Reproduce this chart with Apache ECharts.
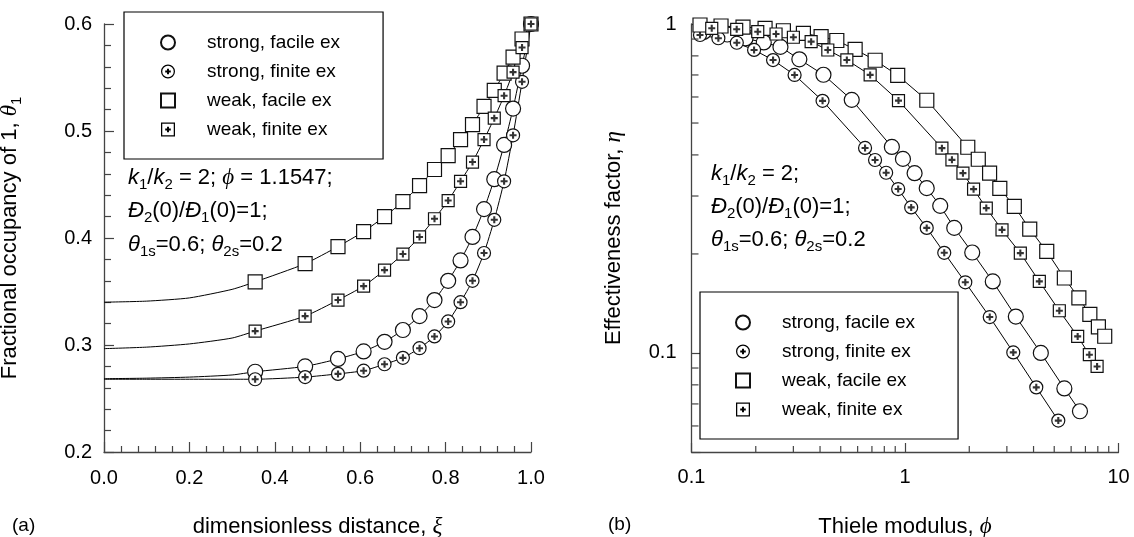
<!DOCTYPE html>
<html><head><meta charset="utf-8">
<script src="https://cdn.jsdelivr.net/npm/echarts@6/dist/echarts.min.js"></script>
<style>html,body{margin:0;padding:0;background:#fff}#c{width:1134px;height:537px}</style>
</head><body><div id="c"></div>
<script>
// ---------- Panel (a): fractional occupancy vs dimensionless distance ----------
const aXi = [0.354, 0.471, 0.548, 0.608, 0.657, 0.700, 0.739, 0.774, 0.806, 0.835, 0.863, 0.890, 0.914, 0.937, 0.958, 0.979, 1.000];
const aStrongFacile = [0.275, 0.280, 0.287, 0.294, 0.303, 0.314, 0.327, 0.342, 0.360, 0.379, 0.401, 0.427, 0.455, 0.487, 0.521, 0.561, 0.600];
const aStrongFinite = [0.268, 0.270, 0.273, 0.276, 0.282, 0.288, 0.297, 0.308, 0.322, 0.340, 0.360, 0.386, 0.417, 0.453, 0.496, 0.546, 0.600];
const aWeakFacile = [0.359, 0.376, 0.392, 0.406, 0.420, 0.434, 0.449, 0.464, 0.477, 0.492, 0.506, 0.523, 0.538, 0.554, 0.569, 0.586, 0.600];
const aWeakFinite = [0.313, 0.327, 0.342, 0.355, 0.370, 0.385, 0.401, 0.418, 0.435, 0.453, 0.471, 0.492, 0.512, 0.533, 0.555, 0.578, 0.600];
// curve near the centre (line only, no markers)
const aXiCentre = [0, 0.1, 0.2, 0.3];
const aStrongFacileCentre = [0.2685, 0.269, 0.270, 0.272];
const aStrongFiniteCentre = [0.268, 0.268, 0.268, 0.268];
const aWeakFacileCentre = [0.340, 0.341, 0.344, 0.352];
const aWeakFiniteCentre = [0.2966, 0.298, 0.301, 0.3065];

// ---------- Panel (b): effectiveness factor vs Thiele modulus ----------
const bStrongFacilePhi = [0.114, 0.147, 0.179, 0.218, 0.261, 0.320, 0.415, 0.563, 0.868, 0.978, 1.109, 1.264, 1.462, 1.701, 2.065, 2.577, 3.304, 4.327, 5.577, 6.599];
const bStrongFacileEta = [0.946, 0.929, 0.904, 0.879, 0.852, 0.781, 0.701, 0.588, 0.423, 0.389, 0.352, 0.317, 0.280, 0.240, 0.202, 0.165, 0.129, 0.100, 0.078, 0.0665];
const bStrongFinitePhi = [0.1096, 0.1336, 0.163, 0.1964, 0.241, 0.304, 0.411, 0.650, 0.724, 0.816, 0.929, 1.069, 1.264, 1.527, 1.916, 2.494, 3.215, 4.120, 5.224];
const bStrongFiniteEta = [0.926, 0.905, 0.877, 0.834, 0.777, 0.700, 0.584, 0.420, 0.386, 0.353, 0.315, 0.277, 0.240, 0.2016, 0.164, 0.1286, 0.1004, 0.0786, 0.0623];
const bWeakFacilePhi = [0.1096, 0.1375, 0.1743, 0.2211, 0.2694, 0.3343, 0.4046, 0.4793, 0.5841, 0.7248, 0.9243, 1.265, 1.968, 2.204, 2.490, 2.780, 3.251, 3.839, 4.612, 5.577, 6.522, 7.342, 8.050, 8.618];
const bWeakFacileEta = [0.993, 0.986, 0.979, 0.9705, 0.954, 0.937, 0.915, 0.891, 0.837, 0.776, 0.698, 0.5865, 0.422, 0.388, 0.352, 0.3165, 0.279, 0.238, 0.2035, 0.169, 0.147, 0.131, 0.120, 0.1124];
const bWeakFinitePhi = [0.1244, 0.1628, 0.2043, 0.2489, 0.3001, 0.3634, 0.4350, 0.5341, 0.6867, 0.9322, 1.489, 1.659, 1.868, 2.095, 2.403, 2.847, 3.469, 4.258, 5.283, 6.438, 7.303, 7.938];
const bWeakFiniteEta = [0.9705, 0.9636, 0.9476, 0.9325, 0.9113, 0.8837, 0.8337, 0.7774, 0.7002, 0.5849, 0.4194, 0.3864, 0.3521, 0.3148, 0.2757, 0.2367, 0.2012, 0.165, 0.1344, 0.1123, 0.0988, 0.0910];

// tick values / labels
const bXLabels = [0.1, 1, 10];
const bYLabels = [0.1, 1];
const bXMinor = [0.2, 0.3, 0.4, 0.5, 0.6, 0.7, 0.8, 0.9, 2, 3, 4, 5, 6, 7, 8, 9];
const bYMinor = [0.06, 0.07, 0.08, 0.09, 0.2, 0.3, 0.4, 0.5, 0.6, 0.7, 0.8, 0.9];
const legendNames = ['strong, facile ex', 'strong, finite ex', 'weak, facile ex', 'weak, finite ex'];

const FONT = 'Liberation Sans';
const AX = '#444';
const PLUS = 'path://M3.5,0L6.5,0L6.5,3.5L10,3.5L10,6.5L6.5,6.5L6.5,10L3.5,10L3.5,6.5L0,6.5L0,3.5L3.5,3.5Z';
const ICON_CIRCLE = 'path://M0,50A50,50 0 1,1 100,50A50,50 0 1,1 0,50Z';
const ICON_CIRCLE_PLUS = 'path://M0,50A50,50 0 1,1 100,50A50,50 0 1,1 0,50Z M9,50A41,41 0 1,0 91,50A41,41 0 1,0 9,50Z M43,30L57,30L57,43L70,43L70,57L57,57L57,70L43,70L43,57L30,57L30,43L43,43Z';
const ICON_SQUARE = 'path://M0,0L100,0L100,100L0,100Z';
const ICON_SQUARE_PLUS = 'path://M0,0L100,0L100,100L0,100Z M9,9L9,91L91,91L91,9Z M43,30L57,30L57,43L70,43L70,57L57,57L57,70L43,70L43,57L30,57L30,43L43,43Z';

const zip = (xs, ys) => xs.map((x, i) => [x, ys[i]]);

const RICH = {
  n: {fontSize: 22, fontFamily: FONT, color: '#000', lineHeight: 28},
  i: {fontSize: 22, fontFamily: FONT, fontStyle: 'italic', color: '#000', lineHeight: 28},
  gi: {fontSize: 23, fontFamily: 'Liberation Serif', fontStyle: 'italic', color: '#000', lineHeight: 28},
  sub: {fontSize: 15, fontFamily: FONT, color: '#000', lineHeight: 17, verticalAlign: 'bottom'}
};
const NAME_RICH = {
  n: {fontSize: 22, fontFamily: FONT, color: '#000', lineHeight: 28},
  gi: {fontSize: 23, fontFamily: 'Liberation Serif', fontStyle: 'italic', color: '#000', lineHeight: 28},
  sub: {fontSize: 15, fontFamily: FONT, color: '#000', lineHeight: 16, verticalAlign: 'bottom'}
};

function lineS(data, xi, yi, smooth) {
  return {type: 'line', xAxisIndex: xi, yAxisIndex: yi, data: data, symbol: 'none',
    smooth: smooth,
    lineStyle: {color: '#000', width: 1}, silent: true, z: 2, clip: true};
}
function markS(name, data, symbol, size, xi, yi) {
  return {type: 'scatter', name: name, xAxisIndex: xi, yAxisIndex: yi, data: data, symbol: symbol,
    symbolSize: size, itemStyle: {color: '#fff', borderColor: '#111', borderWidth: 1.2, opacity: 1}, z: 3, silent: true};
}
function plusS(data, xi, yi) {
  return {type: 'scatter', xAxisIndex: xi, yAxisIndex: yi, data: data, symbol: PLUS, symbolSize: 7,
    itemStyle: {color: '#000'}, z: 3, silent: true};
}

function panelSeries(sf, sfi, wf, wfi, sfLine, sfiLine, wfLine, wfiLine, xi, yi, sizes, smooth) {
  return [
    lineS(sfLine, xi, yi, smooth), lineS(sfiLine, xi, yi, smooth), lineS(wfLine, xi, yi, smooth), lineS(wfiLine, xi, yi, smooth),
    markS(legendNames[0], sf, 'circle', sizes[0], xi, yi),
    markS(legendNames[1], sfi, 'circle', sizes[1], xi, yi),
    plusS(sfi, xi, yi),
    markS(legendNames[2], wf, 'rect', sizes[2], xi, yi),
    markS(legendNames[3], wfi, 'rect', sizes[3], xi, yi),
    plusS(wfi, xi, yi)
  ];
}

const aSF = zip(aXi, aStrongFacile), aSFi = zip(aXi, aStrongFinite);
const aWF = zip(aXi, aWeakFacile), aWFi = zip(aXi, aWeakFinite);
const bSF = zip(bStrongFacilePhi, bStrongFacileEta), bSFi = zip(bStrongFinitePhi, bStrongFiniteEta);
const bWF = zip(bWeakFacilePhi, bWeakFacileEta), bWFi = zip(bWeakFinitePhi, bWeakFiniteEta);

const series = [].concat(
  panelSeries(aSF, aSFi, aWF, aWFi,
    zip(aXiCentre, aStrongFacileCentre).concat(aSF),
    zip(aXiCentre, aStrongFiniteCentre).concat(aSFi),
    zip(aXiCentre, aWeakFacileCentre).concat(aWF),
    zip(aXiCentre, aWeakFiniteCentre).concat(aWFi), 0, 0, [15, 13, 14, 12], 0.2),
  panelSeries(bSF, bSFi, bWF, bWFi, bSF, bSFi, bWF, bWFi, 1, 1, [15, 13, 14, 12], false),
  [
    {type: 'custom', xAxisIndex: 1, yAxisIndex: 1, silent: true, clip: false, z: 5,
      data: bXMinor.map(v => [v, 0.05]),
      renderItem: (p, api) => {
        const c = api.coord([api.value(0), api.value(1)]);
        return {type: 'line', shape: {x1: c[0], y1: c[1], x2: c[0], y2: c[1] - 6}, style: {stroke: AX, lineWidth: 1.2}};
      }},
    {type: 'custom', xAxisIndex: 1, yAxisIndex: 1, silent: true, clip: false, z: 5,
      data: bYMinor.map(v => [0.1, v]),
      renderItem: (p, api) => {
        const c = api.coord([api.value(0), api.value(1)]);
        return {type: 'line', shape: {x1: c[0], y1: c[1], x2: c[0] + 7, y2: c[1]}, style: {stroke: AX, lineWidth: 1.2}};
      }}
  ]
);

function legendData() {
  return [
    {name: legendNames[0], icon: ICON_CIRCLE},
    {name: legendNames[1], icon: ICON_CIRCLE_PLUS, itemStyle: {color: '#000', borderWidth: 0}},
    {name: legendNames[2], icon: ICON_SQUARE},
    {name: legendNames[3], icon: ICON_SQUARE_PLUS, itemStyle: {color: '#000', borderWidth: 0}}
  ];
}
function legend(left, top, padLeft) {
  return {left: left, top: top, orient: 'vertical', selectedMode: false, data: legendData(),
    itemWidth: 68, itemHeight: 14, itemGap: 10, padding: [21, 43, 20, padLeft],
    borderColor: '#000', borderWidth: 1.2, backgroundColor: '#fff', symbolKeepAspect: true,
    textStyle: {fontSize: 19, fontFamily: FONT, color: '#000'}};
}

const axLine = {onZero: false, lineStyle: {color: AX, width: 1.3}};
const tickLbl = {fontSize: 20, fontFamily: FONT, color: '#000'};

const option = {
  animation: false,
  backgroundColor: '#fff',
  textStyle: {fontFamily: FONT},
  grid: [
    {left: 104, top: 24, width: 427, height: 428, outerBoundsMode: 'none', containLabel: false},
    {left: 691.5, top: 24, width: 427, height: 428, outerBoundsMode: 'none', containLabel: false}
  ],
  xAxis: [
    {type: 'value', gridIndex: 0, min: 0, max: 1, interval: 0.2,
      axisLine: axLine, axisTick: {inside: true, length: 10, lineStyle: {color: AX, width: 1.2}},
      minorTick: {show: true, splitNumber: 5, length: 6, lineStyle: {color: AX, width: 1.2}},
      splitLine: {show: false}, minorSplitLine: {show: false},
      axisLabel: Object.assign({margin: 16, formatter: v => v.toFixed(1)}, tickLbl),
      name: '{n|dimensionless distance, }{gi|ξ}', nameLocation: 'middle', nameGap: 61,
      nameTextStyle: {rich: NAME_RICH}},
    {type: 'log', logBase: 10, gridIndex: 1, min: 0.1, max: 10,
      axisLine: axLine, axisTick: {inside: true, length: 9, lineStyle: {color: AX, width: 1.2}},
      minorTick: {show: false}, splitLine: {show: false},
      axisLabel: Object.assign({margin: 15, formatter: v => {
        const r = +Number(v).toPrecision(3); return bXLabels.indexOf(r) >= 0 ? String(r) : '';
      }}, tickLbl),
      name: '{n|Thiele modulus, }{gi|ϕ}', nameLocation: 'middle', nameGap: 61,
      nameTextStyle: {rich: NAME_RICH}}
  ],
  yAxis: [
    {type: 'value', gridIndex: 0, min: 0.2, max: 0.6, interval: 0.1,
      axisLine: axLine, axisTick: {inside: true, length: 10, lineStyle: {color: AX, width: 1.2}},
      minorTick: {show: true, splitNumber: 5, length: 7, lineStyle: {color: AX, width: 1.2}},
      splitLine: {show: false}, minorSplitLine: {show: false},
      axisLabel: Object.assign({margin: 12, formatter: v => v.toFixed(1)}, tickLbl),
      name: '{n|Fractional occupancy of 1, }{gi|θ}{sub|1}', nameLocation: 'middle', nameGap: 80,
      nameTextStyle: {rich: NAME_RICH}},
    {type: 'log', logBase: 10, gridIndex: 1, min: 0.05, max: 1,
      axisLine: axLine, axisTick: {inside: true, length: 9, lineStyle: {color: AX, width: 1.2}},
      minorTick: {show: false}, splitLine: {show: false},
      axisLabel: Object.assign({margin: 15, formatter: v => {
        const r = +Number(v).toPrecision(3); return bYLabels.indexOf(r) >= 0 ? String(r) : '';
      }}, tickLbl),
      name: '{n|Effectiveness factor, }{gi|η}', nameLocation: 'middle', nameGap: 64,
      nameTextStyle: {rich: NAME_RICH}}
  ],
  legend: [legend(124, 12, 36), legend(700, 292, 35)],
  graphic: [
    {type: 'text', x: 128, y: 178, style: {text: '{i|k}{sub|1}{n|/}{i|k}{sub|2}{n| = 2; }{gi|ϕ}{n| = 1.1547;}', rich: RICH, verticalAlign: 'middle'}},
    {type: 'text', x: 128, y: 211, style: {text: '{i|Đ}{sub|2}{n|(0)/}{i|Đ}{sub|1}{n|(0)=1;}', rich: RICH, verticalAlign: 'middle'}},
    {type: 'text', x: 128, y: 245, style: {text: '{i|θ}{sub|1s}{n|=0.6; }{i|θ}{sub|2s}{n|=0.2}', rich: RICH, verticalAlign: 'middle'}},
    {type: 'text', x: 711, y: 174, style: {text: '{i|k}{sub|1}{n|/}{i|k}{sub|2}{n| = 2;}', rich: RICH, verticalAlign: 'middle'}},
    {type: 'text', x: 711, y: 207, style: {text: '{i|Đ}{sub|2}{n|(0)/}{i|Đ}{sub|1}{n|(0)=1;}', rich: RICH, verticalAlign: 'middle'}},
    {type: 'text', x: 711, y: 240, style: {text: '{i|θ}{sub|1s}{n|=0.6; }{i|θ}{sub|2s}{n|=0.2}', rich: RICH, verticalAlign: 'middle'}},
    {type: 'text', x: 12, y: 526, style: {text: '(a)', fontSize: 19, fontFamily: FONT, fill: '#000', verticalAlign: 'middle'}},
    {type: 'text', x: 608, y: 525, style: {text: '(b)', fontSize: 19, fontFamily: FONT, fill: '#000', verticalAlign: 'middle'}}
  ],
  series: series
};

const chart = echarts.init(document.getElementById('c'), null, {renderer: 'canvas'});
chart.setOption(option);
</script>
</body></html>
